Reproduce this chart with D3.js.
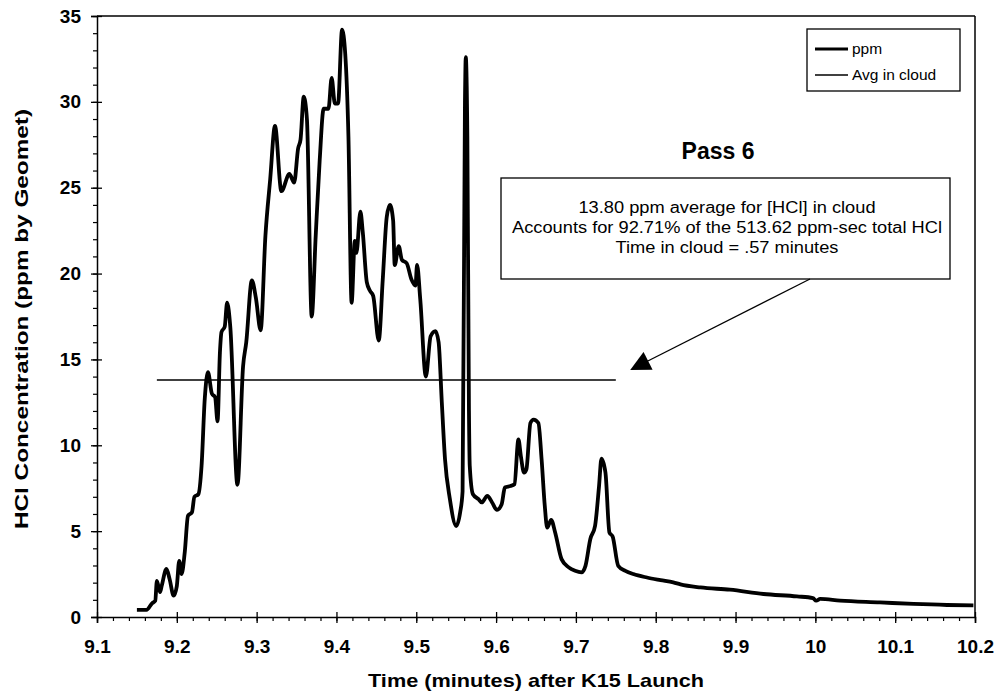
<!DOCTYPE html>
<html>
<head>
<meta charset="utf-8">
<script src="https://cdn.jsdelivr.net/npm/d3@7"></script>
<style>
  body { margin: 0; background: #fff; }
  svg { font-family: 'Liberation Sans', Arial, sans-serif; }
</style>
</head>
<body>
<svg id="chart" width="1000" height="700"></svg>
<script>
// Time (minutes after launch) and HCl ppm
const times = [9.150, 9.162, 9.169, 9.173, 9.175, 9.179, 9.181, 9.187, 9.191, 9.196,
  9.200, 9.203, 9.206, 9.210, 9.214, 9.219, 9.222, 9.227, 9.231, 9.235,
  9.239, 9.244, 9.248, 9.251, 9.254, 9.256, 9.260, 9.263, 9.267, 9.276,
  9.283, 9.287, 9.294, 9.299, 9.305, 9.311, 9.317, 9.323, 9.331, 9.341,
  9.347, 9.352, 9.355, 9.359, 9.363, 9.369, 9.374, 9.379, 9.384, 9.390,
  9.394, 9.398, 9.402, 9.407, 9.411, 9.415, 9.419, 9.423, 9.425, 9.430,
  9.433, 9.438, 9.442, 9.446, 9.453, 9.458, 9.463, 9.467, 9.471, 9.473,
  9.478, 9.482, 9.488, 9.494, 9.499, 9.501, 9.505, 9.512, 9.518, 9.524,
  9.528, 9.532, 9.536, 9.542, 9.550, 9.555, 9.558, 9.561, 9.562, 9.564,
  9.566, 9.567, 9.571, 9.578, 9.582, 9.589, 9.595, 9.601, 9.607, 9.611,
  9.618, 9.623, 9.628, 9.631, 9.635, 9.638, 9.643, 9.647, 9.653, 9.657,
  9.661, 9.664, 9.669, 9.674, 9.682, 9.691, 9.699, 9.707, 9.712, 9.718,
  9.724, 9.729, 9.732, 9.737, 9.742, 9.746, 9.753, 9.762, 9.772, 9.789,
  9.806, 9.822, 9.831, 9.856, 9.893, 9.935, 9.977, 9.997, 10.001, 10.006,
  10.031, 10.081, 10.123, 10.165, 10.198];
const ppm = [0.42, 0.42, 0.8, 0.95, 2.1, 1.45, 1.8, 2.8, 2.2, 1.24,
  1.8, 3.27, 2.5, 3.8, 5.9, 6.1, 7.0, 7.15, 8.8, 12.7,
  14.26, 13.0, 12.8, 11.4, 15.4, 16.6, 16.9, 18.3, 16.9, 7.7,
  14.6, 16.0, 19.6, 18.6, 16.7, 22.2, 25.5, 28.6, 24.8, 25.8,
  25.3, 27.3, 27.8, 30.3, 29.0, 17.5, 22.2, 26.6, 29.6, 29.6,
  31.4, 29.9, 29.9, 34.2, 32.8, 28.0, 18.3, 21.9, 21.2, 23.6,
  22.4, 19.5, 19.0, 18.7, 16.1, 19.65, 23.3, 24.0, 23.1, 20.5,
  21.6, 20.8, 20.6, 19.65, 19.3, 20.5, 18.5, 14.0, 16.35, 16.65,
  16.0, 12.5, 9.2, 6.9, 5.3, 6.1, 7.3, 30.0, 32.6, 28.0,
  12.0, 8.8, 7.15, 6.86, 6.67, 7.05, 6.67, 6.24, 6.57, 7.54,
  7.63, 7.73, 10.35, 9.38, 8.41, 8.6, 11.3, 11.5, 11.3, 9.19,
  6.47, 5.2, 5.66, 4.92, 3.37, 2.89, 2.69, 2.6, 2.98, 4.53,
  5.31, 7.63, 9.22, 8.41, 4.92, 4.69, 2.98, 2.69, 2.5, 2.3,
  2.15, 2.02, 1.9, 1.72, 1.59, 1.34, 1.2, 1.1, 0.95, 1.05,
  0.95, 0.85, 0.76, 0.7, 0.68];

// Average in cloud
const avgTimes = [9.175, 9.75];
const avgValue = 13.80;

const xTicks = [9.1, 9.2, 9.3, 9.4, 9.5, 9.6, 9.7, 9.8, 9.9, 10, 10.1, 10.2];
const yTicks = [0, 5, 10, 15, 20, 25, 30, 35];
const noteLines = [
  '13.80 ppm average for [HCl] in cloud',
  'Accounts for 92.71% of the 513.62 ppm-sec total HCl',
  'Time in cloud = .57 minutes'
];

const svg = d3.select('#chart');
const margin = { top: 16, right: 25, bottom: 83, left: 97 };
const width = 1000 - margin.left - margin.right;
const height = 700 - margin.top - margin.bottom;

const g = svg.append('g')
  .attr('transform', 'translate(' + margin.left + ',' + margin.top + ')');

const x = d3.scaleLinear().domain([9.1, 10.2]).range([0, width]);
const y = d3.scaleLinear().domain([0, 35]).range([height, 0]);

// minor ticks
const xMinor = d3.range(9.1, 10.2001, 0.02).map((d) => +d.toFixed(2));
const yMinor = d3.range(0, 35.001, 1);

g.append('g')
  .attr('transform', 'translate(0,' + height + ')')
  .call(d3.axisBottom(x).tickValues(xMinor).tickSize(4).tickFormat(''))
  .call((a) => a.select('.domain').remove())
  .selectAll('line').attr('stroke', '#000').attr('stroke-width', 1.2);

g.append('g')
  .call(d3.axisLeft(y).tickValues(yMinor).tickSize(4).tickFormat(''))
  .call((a) => a.select('.domain').remove())
  .selectAll('line').attr('stroke', '#000').attr('stroke-width', 1.2);

// frame top + right
g.append('line').attr('x1', 0).attr('x2', width).attr('y1', 0).attr('y2', 0)
  .attr('stroke', '#000').attr('stroke-width', 1.5);
g.append('line').attr('x1', width).attr('x2', width).attr('y1', 0).attr('y2', height)
  .attr('stroke', '#000').attr('stroke-width', 1.5);

// major axes
const xAxis = g.append('g')
  .attr('transform', 'translate(0,' + height + ')')
  .call(d3.axisBottom(x).tickValues(xTicks).tickSize(6)
    .tickFormat((d) => (d === 10 ? '10' : d3.format('.1f')(d))));
xAxis.select('.domain').attr('stroke-width', 1.5);
xAxis.selectAll('line').attr('y1', -5).attr('stroke-width', 1.3);
xAxis.selectAll('text')
  .attr('y', 23).attr('dy', '0.71em')
  .attr('font-size', 19).attr('font-weight', 'bold')
  .attr('font-family', "'Liberation Sans', Arial, sans-serif").attr('fill', '#000');

const yAxis = g.append('g')
  .call(d3.axisLeft(y).tickValues(yTicks).tickSize(6));
yAxis.select('.domain').attr('stroke-width', 1.5);
yAxis.selectAll('line').attr('x1', 5).attr('stroke-width', 1.3);
yAxis.selectAll('text')
  .attr('x', -16)
  .attr('font-size', 19).attr('font-weight', 'bold')
  .attr('font-family', "'Liberation Sans', Arial, sans-serif").attr('fill', '#000');

// axis titles
svg.append('text')
  .attr('x', margin.left + x(9.65)).attr('y', 687)
  .attr('text-anchor', 'middle')
  .attr('font-size', 19).attr('font-weight', 'bold')
  .attr('textLength', 336).attr('lengthAdjust', 'spacingAndGlyphs')
  .text('Time (minutes) after K15 Launch');

svg.append('text')
  .attr('transform', 'translate(28,319) rotate(-90)')
  .attr('text-anchor', 'middle')
  .attr('font-size', 19).attr('font-weight', 'bold')
  .attr('textLength', 420).attr('lengthAdjust', 'spacingAndGlyphs')
  .text('HCl Concentration (ppm by Geomet)');

// avg line
g.append('line')
  .attr('x1', x(avgTimes[0])).attr('x2', x(avgTimes[1]))
  .attr('y1', y(avgValue)).attr('y2', y(avgValue))
  .attr('stroke', '#000').attr('stroke-width', 1.6);

// ppm trace
const series = times.map((t, i) => ({ t: t, v: ppm[i] }));
const line = d3.line()
  .x((d) => x(d.t))
  .y((d) => y(d.v))
  .curve(d3.curveMonotoneX);

g.append('path')
  .datum(series)
  .attr('fill', 'none')
  .attr('stroke', '#000')
  .attr('stroke-width', 3.8)
  .attr('stroke-linejoin', 'round')
  .attr('d', line);

// legend
const legend = svg.append('g').attr('transform', 'translate(807,29)');
legend.append('rect')
  .attr('width', 153).attr('height', 62)
  .attr('fill', '#fff').attr('stroke', '#000').attr('stroke-width', 1.3);
const legendItems = [
  { label: 'ppm', w: 3 },
  { label: 'Avg in cloud', w: 1.3 }
];
legendItems.forEach((d, i) => {
  const ly = 20 + i * 26;
  legend.append('line')
    .attr('x1', 8).attr('x2', 41).attr('y1', ly).attr('y2', ly)
    .attr('stroke', '#000').attr('stroke-width', d.w);
  legend.append('text')
    .attr('x', 45).attr('y', ly + 5)
    .attr('font-size', 15.5)
    .text(d.label);
});

// Pass 6 label
svg.append('text')
  .attr('x', 718).attr('y', 159)
  .attr('text-anchor', 'middle')
  .attr('font-size', 23).attr('font-weight', 'bold')
  .text('Pass 6');

// note box
const note = svg.append('g').attr('transform', 'translate(501,178)');
note.append('rect')
  .attr('width', 449).attr('height', 101)
  .attr('fill', '#fff').attr('stroke', '#000').attr('stroke-width', 1.3);
noteLines.forEach((s, i) => {
  const t = note.append('text')
    .attr('x', 226).attr('y', 35 + i * 20)
    .attr('text-anchor', 'middle')
    .attr('font-size', 16)
    .text(s);
  // the scanned type runs wider than Arial
  const w = t.node().getComputedTextLength();
  t.attr('textLength', w * 1.14).attr('lengthAdjust', 'spacingAndGlyphs');
});

// arrow from note box toward average line
const defs = svg.append('defs');
defs.append('marker')
  .attr('id', 'head')
  .attr('viewBox', '0 0 10 10')
  .attr('refX', 9).attr('refY', 5)
  .attr('markerWidth', 22).attr('markerHeight', 20)
  .attr('markerUnits', 'userSpaceOnUse')
  .attr('orient', 'auto')
  .append('path').attr('d', 'M0,0L10,5L0,10Z').attr('fill', '#000');

svg.append('line')
  .attr('x1', 810).attr('y1', 279)
  .attr('x2', 632).attr('y2', 369)
  .attr('stroke', '#000').attr('stroke-width', 1.2)
  .attr('marker-end', 'url(#head)');
</script>
</body>
</html>
